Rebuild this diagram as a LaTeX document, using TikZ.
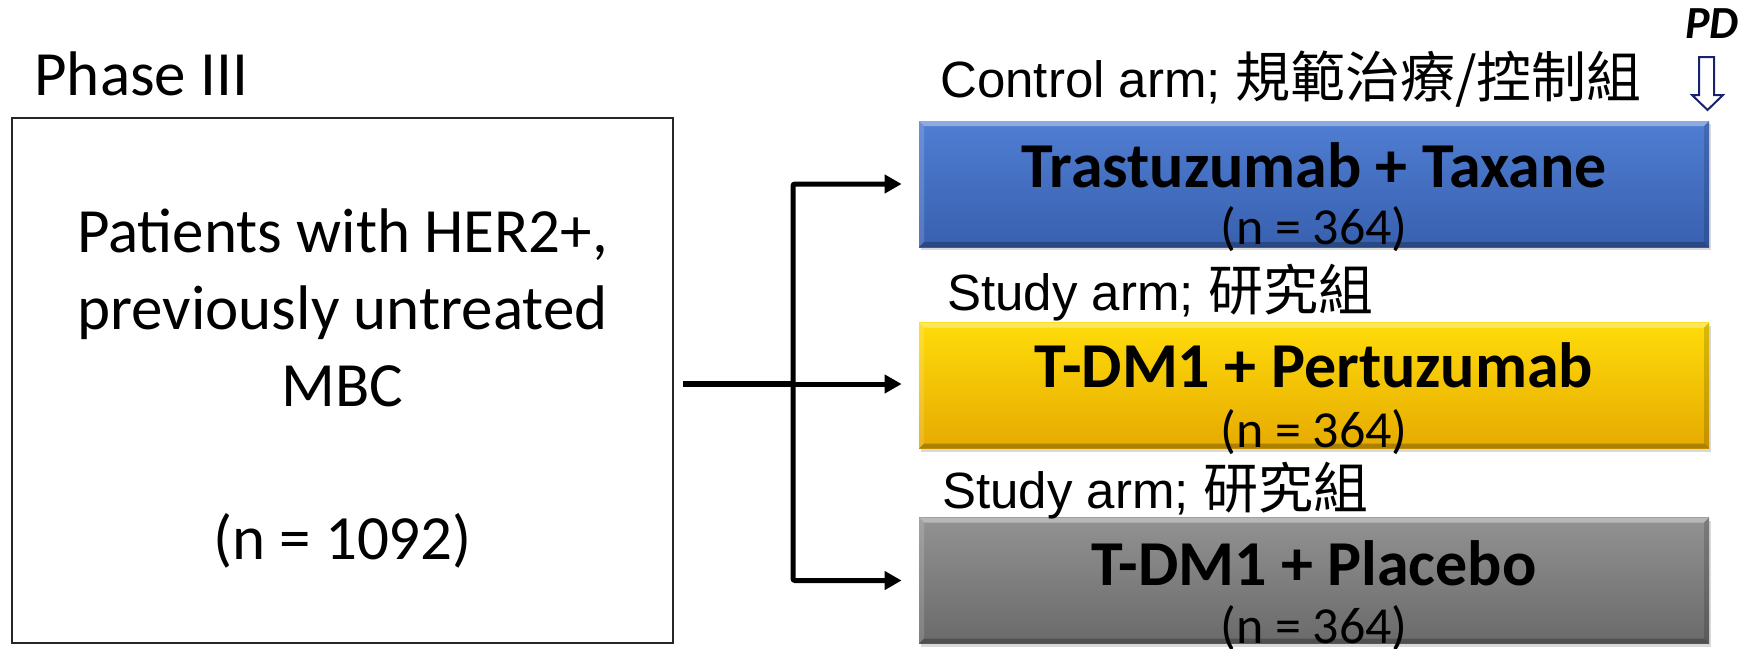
\documentclass[tikz,border=0pt]{standalone}
\usepackage{fontspec}
\setmainfont{Carlito}
\newfontfamily\arialfont{Liberation Sans}
\newfontfamily\cjkfont{Noto Sans CJK TC}
\usetikzlibrary{arrows.meta,shadows}

\definecolor{bluetop}{RGB}{80,126,210}
\definecolor{bluebot}{RGB}{56,96,176}
\definecolor{goldtop}{RGB}{255,220,10}
\definecolor{goldbot}{RGB}{230,170,0}
\definecolor{greytop}{RGB}{146,146,146}
\definecolor{greybot}{RGB}{106,106,106}
\definecolor{pdnavy}{RGB}{24,34,110}

\newcommand{\zh}[1]{{\cjkfont\fontsize{27.5}{30}\selectfont #1}}

\tikzset{
  armbox/.style={minimum width=395pt, minimum height=63pt, inner sep=0pt,
    drop shadow={opacity=0.3, shadow xshift=1pt, shadow yshift=-1.5pt},
    path picture={
      % bevel: light top and left, dark bottom and right
      \fill[white, opacity=0.35] (path picture bounding box.north west) -- (path picture bounding box.north east)
        -- ([xshift=-2.5pt,yshift=-2.5pt]path picture bounding box.north east) -- ([xshift=2.5pt,yshift=-2.5pt]path picture bounding box.north west) -- cycle;
      \fill[white, opacity=0.15] (path picture bounding box.north west) -- (path picture bounding box.south west)
        -- ([xshift=2.5pt,yshift=2.5pt]path picture bounding box.south west) -- ([xshift=2.5pt,yshift=-2.5pt]path picture bounding box.north west) -- cycle;
      \fill[black, opacity=0.25] (path picture bounding box.south west) -- (path picture bounding box.south east)
        -- ([xshift=-2.5pt,yshift=2.5pt]path picture bounding box.south east) -- ([xshift=2.5pt,yshift=2.5pt]path picture bounding box.south west) -- cycle;
      \fill[black, opacity=0.15] (path picture bounding box.north east) -- (path picture bounding box.south east)
        -- ([xshift=-2.5pt,yshift=2.5pt]path picture bounding box.south east) -- ([xshift=-2.5pt,yshift=-2.5pt]path picture bounding box.north east) -- cycle;
    }},
  armtitle/.style={font=\fontsize{32}{36}\selectfont\bfseries, anchor=base, inner sep=0pt},
  armcount/.style={font=\fontsize{26}{30}\selectfont, anchor=base, inner sep=0pt},
  armlabel/.style={font=\arialfont\fontsize{25.5}{30}\selectfont, anchor=base west, inner sep=0pt},
  branch/.style={line width=2.5pt, -{Triangle[length=8.5pt,width=9pt]}, rounded corners=1pt, shorten >=8.5pt},
}

\begin{document}
\begin{tikzpicture}[x=0.5pt, y=-0.5pt]
  \useasboundingbox (0,0) rectangle (1760,648);

  \node[anchor=base west, inner sep=0pt, font=\fontsize{31.5}{38}\selectfont] (phase) at (34,95) {Phase III};
  \node[draw=black!85, line width=1pt, minimum width=330.5pt, minimum height=262.5pt] (patients) at (342.5,380.5) {};
  \node[align=center, font=\fontsize{31.5}{38.4}\selectfont] (patientsinfo) at (342.5,388.5)
    {Patients with HER2+,\\previously untreated\\MBC\\[38.4pt](n = 1092)};

  % the three arms
  \node[armbox, top color=bluetop, bottom color=bluebot] (armA) at (1314,184) {};
  \node[armbox, top color=goldtop, bottom color=goldbot] (armB) at (1314,385.5) {};
  \node[armbox, top color=greytop, bottom color=greybot] (armC) at (1314,580.5) {};

  \node[armtitle] (titleA) at (1314,187) {Trastuzumab + Taxane};
  \node[armcount] (countA) at (1314,244) {(n = 364)};
  \node[armtitle] (titleB) at (1314,387) {T-DM1 + Pertuzumab};
  \node[armcount] (countB) at (1314,447) {(n = 364)};
  \node[armtitle] (titleC) at (1314,585) {T-DM1 + Placebo};
  \node[armcount] (countC) at (1314,643) {(n = 364)};

  \node[armlabel] (labelA) at (940,97) {Control arm; \zh{規範治療/控制組}};
  \node[armlabel] (labelB) at (947,310) {Study arm; \zh{研究組}};
  \node[armlabel] (labelC) at (942,508) {Study arm; \zh{研究組}};

  % randomisation
  \coordinate (fork) at (793,384);
  \draw[line width=3pt] ([xshift=4.5pt]patients.east |- fork) -- (fork);
  \draw[branch] (fork) |- (armA.west);
  \draw[branch] (fork) -- (fork -| armB.west);
  \draw[branch] (fork) |- (armC.west);

  % progression marker
  \node[anchor=base, inner sep=0pt, font=\fontsize{23}{26}\selectfont\bfseries\itshape] (pd) at (1712,38) {PD};
  \draw[pdnavy, line width=1pt, line join=miter] (1699,57) -- (1714,57) -- (1714,95) -- (1723,95)
    -- (1707.5,110) -- (1692,95) -- (1699,95) -- cycle;
\end{tikzpicture}
\end{document}
